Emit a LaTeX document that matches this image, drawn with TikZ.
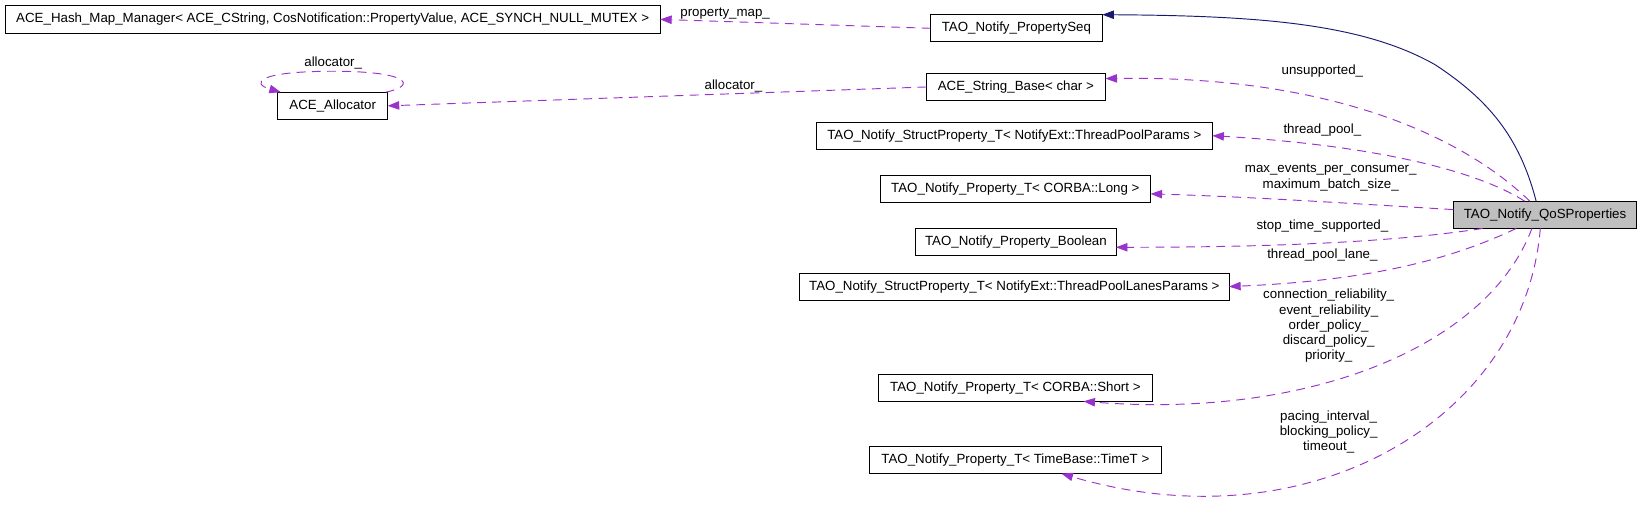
\documentclass[tikz,border=0pt]{standalone}
\usepackage{fontspec}
\setmainfont{Liberation Sans}
\usetikzlibrary{arrows.meta}
\definecolor{purp}{HTML}{9A32CD}
\definecolor{navyb}{HTML}{191970}
\definecolor{qosgray}{HTML}{BFBFBF}
\newcommand{\dfont}{\fontsize{12.7}{14.5}\selectfont}
\begin{document}
\begin{tikzpicture}[x=1pt,y=-1pt,
  box/.style={draw=black, line width=0.8pt, minimum height=26pt, inner sep=0pt, outer sep=0pt, font=\dfont},
  dep/.style={draw=purp, line width=0.9pt, dash pattern=on 8.5pt off 6pt, -{Triangle[length=11pt,width=8pt]}},
  inh/.style={draw=navyb, line width=0.9pt, -{Triangle[length=11pt,width=8pt]}},
  lbl/.style={font=\dfont, align=center, inner sep=0pt}]
\useasboundingbox[fill=white] (0,0) rectangle (1568,484);

\node[box, minimum width=625pt] (hash) at (317.5,18.5) {ACE\_Hash\_Map\_Manager< ACE\_CString, CosNotification::PropertyValue, ACE\_SYNCH\_NULL\_MUTEX >};
\node[box, minimum width=164pt] (propseq) at (970,27) {TAO\_Notify\_PropertySeq};
\node[box, minimum width=171pt] (strbase) at (969.5,83) {ACE\_String\_Base< char >};
\node[box, minimum width=105pt] (alloc) at (317.5,101) {ACE\_Allocator};
\node[box, minimum width=378pt] (tpp) at (968,129.5) {TAO\_Notify\_StructProperty\_T< NotifyExt::ThreadPoolParams >};
\node[box, minimum width=258pt] (long) at (969,180) {TAO\_Notify\_Property\_T< CORBA::Long >};
\node[box, minimum width=191pt] (bool) at (969.5,231) {TAO\_Notify\_Property\_Boolean};
\node[box, minimum width=410pt] (lanes) at (968,273.5) {TAO\_Notify\_StructProperty\_T< NotifyExt::ThreadPoolLanesParams >};
\node[box, minimum width=262pt] (short) at (969,370) {TAO\_Notify\_Property\_T< CORBA::Short >};
\node[box, minimum width=278pt] (timet) at (969,439) {TAO\_Notify\_Property\_T< TimeBase::TimeT >};
\node[box, fill=qosgray, minimum width=175pt] (qos) at (1474.5,205) {TAO\_Notify\_QoSProperties};

% inheritance
\draw[inh] ([xshift=79pt]qos.north west) .. controls (1450,130) and (1420,95) .. (1370,62)
  .. controls (1300,22) and (1200,15) .. (propseq.north east);

% dependencies
\draw[dep] (propseq.west) -- (hash.east);
\node[lbl] (l1) at (692,13) {property\_map\_};

\draw[dep] (strbase.west) -- (alloc.east);
\node[lbl] (l2) at (700,82) {allocator\_};

\coordinate (looptop) at (318,68);
\draw[dep] ([xshift=-2pt]alloc.north east) .. controls (398,82) and (392,68) .. (looptop)
  .. controls (244,68) and (240,80) .. ([xshift=3pt]alloc.north west);
\node[lbl] (l3) at (318,60) {allocator\_};

\draw[dep] ([xshift=73pt]qos.north west) .. controls (1385,120) and (1250,72) .. ([yshift=8pt]strbase.east);
\node[lbl] (l4) at (1262,68) {unsupported\_};

\draw[dep] ([xshift=68pt]qos.north west) .. controls (1405,160) and (1300,138) .. (tpp.east);
\node[lbl] (l5) at (1262,124) {thread\_pool\_};

\draw[dep] ([yshift=5pt]qos.west) .. controls (1300,195) and (1200,188) .. ([yshift=-5pt]long.east);
\node[lbl] (l6) at (1270,169.5) {max\_events\_per\_consumer\_\\maximum\_batch\_size\_};

\draw[dep] ([xshift=28pt]qos.south west) .. controls (1350,228) and (1250,236) .. ([yshift=-5pt]bool.east);
\node[lbl] (l7) at (1262,216) {stop\_time\_supported\_};

\draw[dep] ([xshift=60pt]qos.south west) .. controls (1380,250) and (1300,268) .. (lanes.east);
\node[lbl] (l8) at (1262,243) {thread\_pool\_lane\_};

\draw[dep] ([xshift=75pt]qos.south west) .. controls (1420,330) and (1250,400) .. ([xshift=65pt]short.south);
\node[lbl] (l9) at (1268,311) {connection\_reliability\_\\event\_reliability\_\\order\_policy\_\\discard\_policy\_\\priority\_};

\draw[dep] ([xshift=83pt]qos.south west) .. controls (1455,400) and (1250,522) .. ([xshift=44pt]timet.south);
\node[lbl] (l10) at (1268,412) {pacing\_interval\_\\blocking\_policy\_\\timeout\_};
\end{tikzpicture}
\end{document}
